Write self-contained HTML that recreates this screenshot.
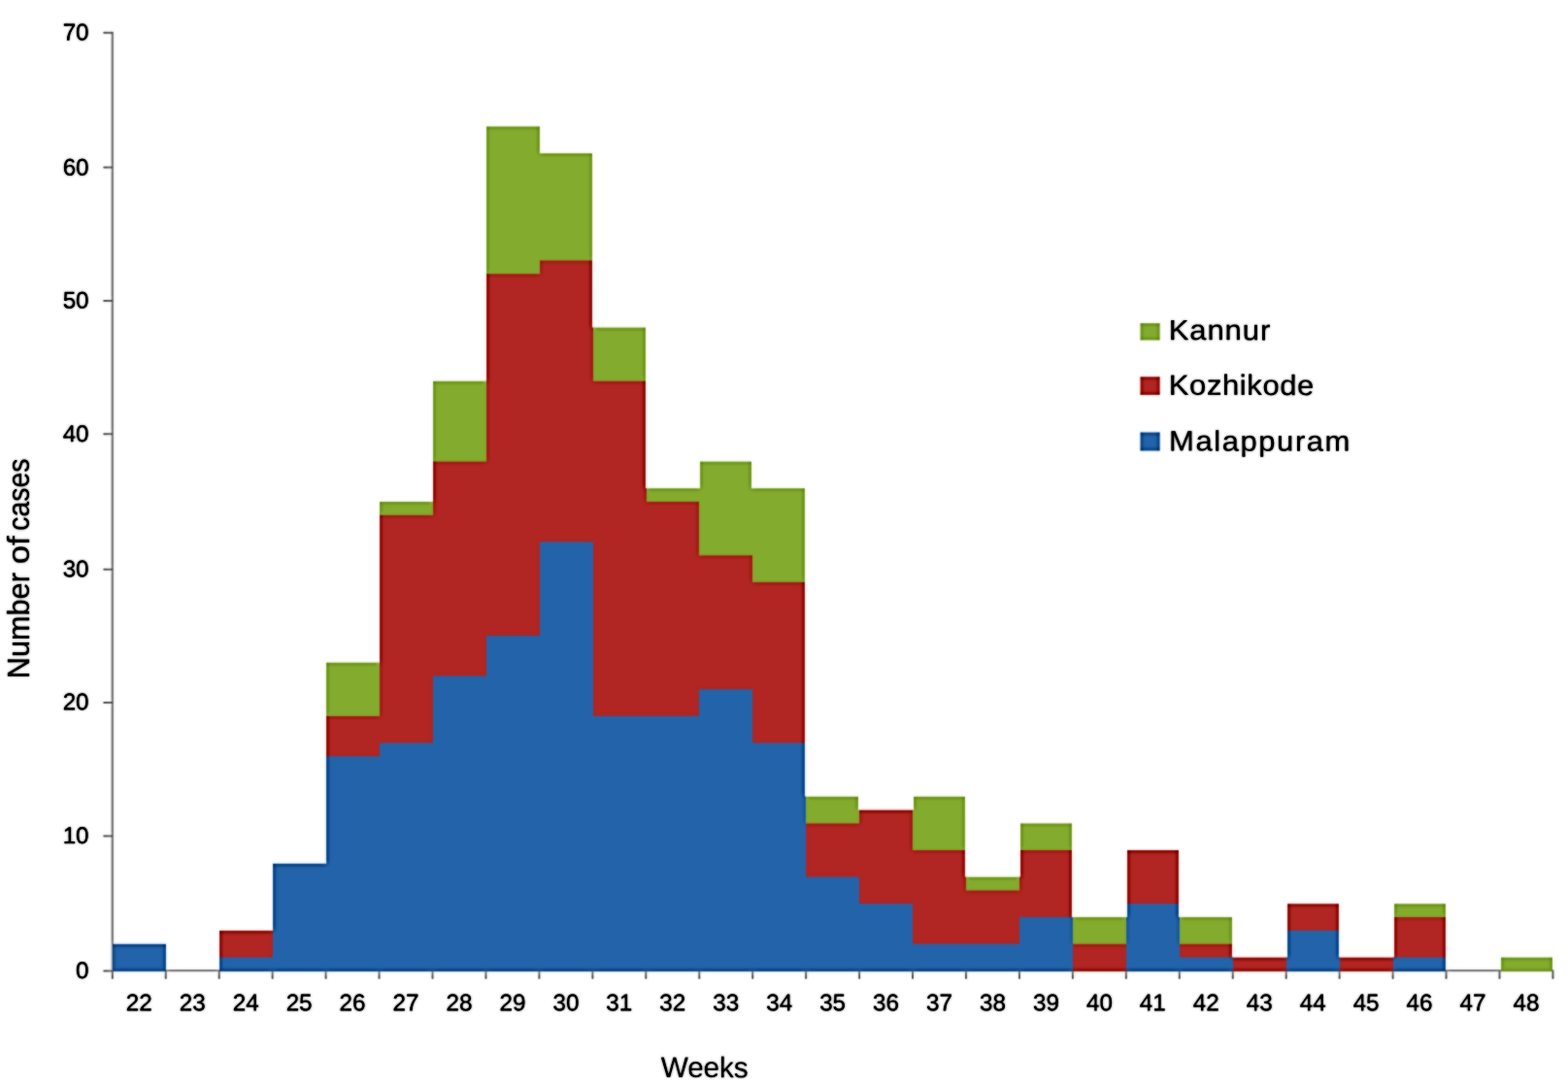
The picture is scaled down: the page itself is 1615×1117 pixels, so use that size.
<!DOCTYPE html>
<html lang="en"><head><meta charset="utf-8">
<title>Number of cases by week</title>
<style>
html,body{margin:0;padding:0;background:#fff;}
body{width:1615px;height:1117px;overflow:hidden;}
svg{display:block;}
text{font-family:"Liberation Sans",sans-serif;fill:#000;stroke:#000;stroke-linejoin:round;}
</style></head><body>
<svg width="1615" height="1117" viewBox="0 0 1615 1117">
<defs><filter id="soft" filterUnits="userSpaceOnUse" x="-30" y="-30" width="1675" height="1177" color-interpolation-filters="sRGB">
<feGaussianBlur in="SourceGraphic" stdDeviation="1" result="b0"/>
<feComposite in="b0" in2="SourceGraphic" operator="arithmetic" k1="0" k2="0.7" k3="0.3" k4="0" result="b1"/>
<feColorMatrix in="b1" type="matrix" values="0.299 0.587 0.114 0 0  0.299 0.587 0.114 0 0  0.299 0.587 0.114 0 0  0 0 0 1 0" result="l1"/>
<feGaussianBlur in="l1" stdDeviation="2" result="l2"/>
<feComposite in="l1" in2="l2" operator="arithmetic" k1="0" k2="1" k3="-1" k4="1" result="e"/>
<feComposite in="b1" in2="e" operator="arithmetic" k1="0" k2="1" k3="1" k4="-1"/>
</filter></defs>
<g filter="url(#soft)">
<rect x="-30" y="-30" width="1675" height="1177" fill="#ffffff"/>
<g id="axes" stroke="#9b9b9b" stroke-width="2.5" fill="none">
<line x1="115.8" y1="32.7" x2="115.8" y2="1001.3"/>
<line x1="114.8" y1="1000.05" x2="1600.45" y2="1000.05" stroke-width="2.3"/>
</g>
<g id="yticks" stroke="#7c7c7c" stroke-width="2" stroke-linecap="round" fill="none">
<line x1="107.2" y1="1000.4" x2="115.3" y2="1000.4"/>
<line x1="107.2" y1="861.4" x2="115.3" y2="861.4"/>
<line x1="107.2" y1="723.9" x2="115.3" y2="723.9"/>
<line x1="107.2" y1="586.7" x2="115.3" y2="586.7"/>
<line x1="107.2" y1="447.3" x2="115.3" y2="447.3"/>
<line x1="107.2" y1="309.9" x2="115.3" y2="309.9"/>
<line x1="107.2" y1="172.6" x2="115.3" y2="172.6"/>
<line x1="107.2" y1="33.7" x2="115.3" y2="33.7"/>
</g>
<g id="bars">
<g fill="#83ab2d">
<rect x="336" y="682.67" width="55" height="318.23"/>
<rect x="336" y="889.82" width="55" height="111.08"/>
<rect x="391" y="516.95" width="55" height="483.95"/>
<rect x="391" y="682.67" width="55" height="318.23"/>
<rect x="446" y="392.66" width="55" height="608.24"/>
<rect x="446" y="516.95" width="55" height="483.95"/>
<rect x="501" y="130.27" width="55" height="870.63"/>
<rect x="501" y="157.89" width="55" height="843.01"/>
<rect x="501" y="392.66" width="55" height="608.24"/>
<rect x="556" y="157.89" width="54" height="843.01"/>
<rect x="556" y="337.42" width="55" height="663.48"/>
<rect x="611" y="337.42" width="54" height="663.48"/>
<rect x="611" y="503.14" width="55" height="497.76"/>
<rect x="666" y="503.14" width="54" height="497.76"/>
<rect x="721" y="475.52" width="53" height="525.38"/>
<rect x="720" y="503.14" width="55" height="497.76"/>
<rect x="775" y="503.14" width="54" height="497.76"/>
<rect x="775" y="820.77" width="55" height="180.13"/>
<rect x="830" y="820.77" width="54" height="180.13"/>
<rect x="830" y="834.58" width="55" height="166.32"/>
<rect x="941" y="820.77" width="53" height="180.13"/>
<rect x="940" y="834.58" width="54" height="166.32"/>
<rect x="940" y="903.63" width="55" height="97.27"/>
<rect x="995" y="903.63" width="55" height="97.27"/>
<rect x="1051" y="848.39" width="53" height="152.51"/>
<rect x="1050" y="903.63" width="54" height="97.27"/>
<rect x="1050" y="945.06" width="55" height="55.84"/>
<rect x="1105" y="945.06" width="55" height="55.84"/>
<rect x="1215" y="945.06" width="54" height="55.84"/>
<rect x="1215" y="986.49" width="55" height="14.41"/>
<rect x="1436" y="931.25" width="53" height="69.65"/>
<rect x="1435" y="986.49" width="54" height="14.41"/>
<rect x="1546" y="986.49" width="53" height="14.41"/>
</g>
<g fill="#b12622">
<rect x="226" y="958.87" width="55" height="42.03"/>
<rect x="336" y="737.91" width="55" height="262.99"/>
<rect x="336" y="889.82" width="55" height="111.08"/>
<rect x="391" y="530.76" width="55" height="470.14"/>
<rect x="391" y="682.67" width="55" height="318.23"/>
<rect x="446" y="475.52" width="55" height="525.38"/>
<rect x="446" y="516.95" width="55" height="483.95"/>
<rect x="501" y="282.18" width="55" height="718.72"/>
<rect x="501" y="392.66" width="55" height="608.24"/>
<rect x="556" y="268.37" width="54" height="732.53"/>
<rect x="556" y="337.42" width="55" height="663.48"/>
<rect x="611" y="392.66" width="54" height="608.24"/>
<rect x="611" y="503.14" width="55" height="497.76"/>
<rect x="666" y="516.95" width="54" height="483.95"/>
<rect x="720" y="572.19" width="55" height="428.71"/>
<rect x="775" y="599.81" width="54" height="401.09"/>
<rect x="775" y="820.77" width="55" height="180.13"/>
<rect x="830" y="848.39" width="55" height="152.51"/>
<rect x="885" y="834.58" width="55" height="166.32"/>
<rect x="940" y="876.01" width="54" height="124.89"/>
<rect x="940" y="903.63" width="55" height="97.27"/>
<rect x="995" y="917.44" width="55" height="83.46"/>
<rect x="1051" y="876.01" width="53" height="124.89"/>
<rect x="1050" y="903.63" width="54" height="97.27"/>
<rect x="1050" y="945.06" width="55" height="55.84"/>
<rect x="1105" y="972.68" width="55" height="28.22"/>
<rect x="1161" y="876.01" width="53" height="124.89"/>
<rect x="1160" y="945.06" width="55" height="55.84"/>
<rect x="1215" y="972.68" width="54" height="28.22"/>
<rect x="1215" y="986.49" width="55" height="14.41"/>
<rect x="1270" y="986.49" width="55" height="14.41"/>
<rect x="1326" y="931.25" width="53" height="69.65"/>
<rect x="1325" y="986.49" width="55" height="14.41"/>
<rect x="1380" y="986.49" width="55" height="14.41"/>
<rect x="1436" y="945.06" width="53" height="55.84"/>
<rect x="1435" y="986.49" width="54" height="14.41"/>
</g>
<g fill="#2363aa">
<rect x="116" y="972.68" width="55" height="28.22"/>
<rect x="226" y="986.49" width="55" height="14.41"/>
<rect x="281" y="889.82" width="55" height="111.08"/>
<rect x="281" y="958.87" width="55" height="42.03"/>
<rect x="336" y="779.34" width="55" height="221.56"/>
<rect x="336" y="889.82" width="55" height="111.08"/>
<rect x="391" y="765.53" width="55" height="235.37"/>
<rect x="446" y="696.48" width="55" height="304.42"/>
<rect x="501" y="655.05" width="55" height="345.85"/>
<rect x="556" y="558.38" width="55" height="442.52"/>
<rect x="611" y="737.91" width="55" height="262.99"/>
<rect x="666" y="737.91" width="54" height="262.99"/>
<rect x="720" y="710.29" width="55" height="290.61"/>
<rect x="775" y="765.53" width="54" height="235.37"/>
<rect x="775" y="820.77" width="55" height="180.13"/>
<rect x="830" y="903.63" width="55" height="97.27"/>
<rect x="885" y="931.25" width="55" height="69.65"/>
<rect x="940" y="972.68" width="55" height="28.22"/>
<rect x="995" y="972.68" width="55" height="28.22"/>
<rect x="1050" y="945.06" width="55" height="55.84"/>
<rect x="1161" y="931.25" width="53" height="69.65"/>
<rect x="1160" y="945.06" width="55" height="55.84"/>
<rect x="1215" y="986.49" width="55" height="14.41"/>
<rect x="1326" y="958.87" width="53" height="42.03"/>
<rect x="1325" y="986.49" width="55" height="14.41"/>
<rect x="1435" y="986.49" width="54" height="14.41"/>
</g>
</g>
<g id="xticks" stroke="#7c7c7c" stroke-width="2" stroke-linecap="round">
<line x1="115.8" y1="1001.5" x2="115.8" y2="1008"/>
<line x1="170.75" y1="1001.5" x2="170.75" y2="1008"/>
<line x1="225.7" y1="1001.5" x2="225.7" y2="1008"/>
<line x1="280.65" y1="1001.5" x2="280.65" y2="1008"/>
<line x1="335.6" y1="1001.5" x2="335.6" y2="1008"/>
<line x1="390.55" y1="1001.5" x2="390.55" y2="1008"/>
<line x1="445.5" y1="1001.5" x2="445.5" y2="1008"/>
<line x1="500.45" y1="1001.5" x2="500.45" y2="1008"/>
<line x1="555.4" y1="1001.5" x2="555.4" y2="1008"/>
<line x1="610.35" y1="1001.5" x2="610.35" y2="1008"/>
<line x1="665.3" y1="1001.5" x2="665.3" y2="1008"/>
<line x1="720.25" y1="1001.5" x2="720.25" y2="1008"/>
<line x1="775.2" y1="1001.5" x2="775.2" y2="1008"/>
<line x1="830.15" y1="1001.5" x2="830.15" y2="1008"/>
<line x1="885.1" y1="1001.5" x2="885.1" y2="1008"/>
<line x1="940.05" y1="1001.5" x2="940.05" y2="1008"/>
<line x1="995" y1="1001.5" x2="995" y2="1008"/>
<line x1="1049.95" y1="1001.5" x2="1049.95" y2="1008"/>
<line x1="1104.9" y1="1001.5" x2="1104.9" y2="1008"/>
<line x1="1159.85" y1="1001.5" x2="1159.85" y2="1008"/>
<line x1="1214.8" y1="1001.5" x2="1214.8" y2="1008"/>
<line x1="1269.75" y1="1001.5" x2="1269.75" y2="1008"/>
<line x1="1324.7" y1="1001.5" x2="1324.7" y2="1008"/>
<line x1="1379.65" y1="1001.5" x2="1379.65" y2="1008"/>
<line x1="1434.6" y1="1001.5" x2="1434.6" y2="1008"/>
<line x1="1489.55" y1="1001.5" x2="1489.55" y2="1008"/>
<line x1="1544.5" y1="1001.5" x2="1544.5" y2="1008"/>
<line x1="1599.45" y1="1001.5" x2="1599.45" y2="1008"/>
</g>
<g id="ylabels">
<text font-size="24" stroke-width="0.42" text-anchor="end" transform="translate(91.6 1008) matrix(1.01 0.002 0 1 0 0)">0</text>
<text font-size="24" stroke-width="0.42" text-anchor="end" transform="translate(91.6 869) matrix(1.01 0.002 0 1 0 0)">10</text>
<text font-size="24" stroke-width="0.42" text-anchor="end" transform="translate(91.6 731.4) matrix(1.01 0.002 0 1 0 0)">20</text>
<text font-size="24" stroke-width="0.42" text-anchor="end" transform="translate(91.6 594.2) matrix(1.01 0.002 0 1 0 0)">30</text>
<text font-size="24" stroke-width="0.42" text-anchor="end" transform="translate(91.6 455) matrix(1.01 0.002 0 1 0 0)">40</text>
<text font-size="24" stroke-width="0.42" text-anchor="end" transform="translate(91.6 317.45) matrix(1.01 0.002 0 1 0 0)">50</text>
<text font-size="24" stroke-width="0.42" text-anchor="end" transform="translate(91.6 180.65) matrix(1.01 0.002 0 1 0 0)">60</text>
<text font-size="24" stroke-width="0.42" text-anchor="end" transform="translate(91.6 41.2) matrix(1.01 0.002 0 1 0 0)">70</text>
</g>
<g id="xlabels">
<text font-size="24" stroke-width="0.42" text-anchor="middle" transform="translate(143.28 1041.35) matrix(1.01 0.002 0 1 0 0)">22</text>
<text font-size="24" stroke-width="0.42" text-anchor="middle" transform="translate(198.23 1041.35) matrix(1.01 0.002 0 1 0 0)">23</text>
<text font-size="24" stroke-width="0.42" text-anchor="middle" transform="translate(253.18 1041.35) matrix(1.01 0.002 0 1 0 0)">24</text>
<text font-size="24" stroke-width="0.42" text-anchor="middle" transform="translate(308.12 1041.35) matrix(1.01 0.002 0 1 0 0)">25</text>
<text font-size="24" stroke-width="0.42" text-anchor="middle" transform="translate(363.07 1041.35) matrix(1.01 0.002 0 1 0 0)">26</text>
<text font-size="24" stroke-width="0.42" text-anchor="middle" transform="translate(418.03 1041.35) matrix(1.01 0.002 0 1 0 0)">27</text>
<text font-size="24" stroke-width="0.42" text-anchor="middle" transform="translate(472.98 1041.35) matrix(1.01 0.002 0 1 0 0)">28</text>
<text font-size="24" stroke-width="0.42" text-anchor="middle" transform="translate(527.92 1041.35) matrix(1.01 0.002 0 1 0 0)">29</text>
<text font-size="24" stroke-width="0.42" text-anchor="middle" transform="translate(582.88 1041.35) matrix(1.01 0.002 0 1 0 0)">30</text>
<text font-size="24" stroke-width="0.42" text-anchor="middle" transform="translate(637.82 1041.35) matrix(1.01 0.002 0 1 0 0)">31</text>
<text font-size="24" stroke-width="0.42" text-anchor="middle" transform="translate(692.77 1041.35) matrix(1.01 0.002 0 1 0 0)">32</text>
<text font-size="24" stroke-width="0.42" text-anchor="middle" transform="translate(747.73 1041.35) matrix(1.01 0.002 0 1 0 0)">33</text>
<text font-size="24" stroke-width="0.42" text-anchor="middle" transform="translate(802.67 1041.35) matrix(1.01 0.002 0 1 0 0)">34</text>
<text font-size="24" stroke-width="0.42" text-anchor="middle" transform="translate(857.62 1041.35) matrix(1.01 0.002 0 1 0 0)">35</text>
<text font-size="24" stroke-width="0.42" text-anchor="middle" transform="translate(912.58 1041.35) matrix(1.01 0.002 0 1 0 0)">36</text>
<text font-size="24" stroke-width="0.42" text-anchor="middle" transform="translate(967.52 1041.35) matrix(1.01 0.002 0 1 0 0)">37</text>
<text font-size="24" stroke-width="0.42" text-anchor="middle" transform="translate(1022.48 1041.35) matrix(1.01 0.002 0 1 0 0)">38</text>
<text font-size="24" stroke-width="0.42" text-anchor="middle" transform="translate(1077.42 1041.35) matrix(1.01 0.002 0 1 0 0)">39</text>
<text font-size="24" stroke-width="0.42" text-anchor="middle" transform="translate(1132.38 1041.35) matrix(1.01 0.002 0 1 0 0)">40</text>
<text font-size="24" stroke-width="0.42" text-anchor="middle" transform="translate(1187.33 1041.35) matrix(1.01 0.002 0 1 0 0)">41</text>
<text font-size="24" stroke-width="0.42" text-anchor="middle" transform="translate(1242.28 1041.35) matrix(1.01 0.002 0 1 0 0)">42</text>
<text font-size="24" stroke-width="0.42" text-anchor="middle" transform="translate(1297.22 1041.35) matrix(1.01 0.002 0 1 0 0)">43</text>
<text font-size="24" stroke-width="0.42" text-anchor="middle" transform="translate(1352.17 1041.35) matrix(1.01 0.002 0 1 0 0)">44</text>
<text font-size="24" stroke-width="0.42" text-anchor="middle" transform="translate(1407.12 1041.35) matrix(1.01 0.002 0 1 0 0)">45</text>
<text font-size="24" stroke-width="0.42" text-anchor="middle" transform="translate(1462.08 1041.35) matrix(1.01 0.002 0 1 0 0)">46</text>
<text font-size="24" stroke-width="0.42" text-anchor="middle" transform="translate(1517.03 1041.35) matrix(1.01 0.002 0 1 0 0)">47</text>
<text font-size="24" stroke-width="0.42" text-anchor="middle" transform="translate(1571.98 1041.35) matrix(1.01 0.002 0 1 0 0)">48</text>
</g>
<g id="legend">
<rect x="1174.4" y="333" width="20.3" height="17.6" fill="#83ab2d"/>
<text font-size="29" stroke-width="0.3" letter-spacing="0.85" text-anchor="start" transform="translate(1203.7 350) matrix(1.07 0.002 0 1 0 0)">Kannur</text>
<rect x="1174.4" y="388.2" width="20.3" height="18.8" fill="#b12622"/>
<text font-size="29" stroke-width="0.3" letter-spacing="0.55" text-anchor="start" transform="translate(1203.8 406.7) matrix(1.07 0.002 0 1 0 0)">Kozhikode</text>
<rect x="1174.4" y="445.4" width="20.3" height="19.2" fill="#2363aa"/>
<text font-size="29" stroke-width="0.3" letter-spacing="1.45" text-anchor="start" transform="translate(1204.1 464.3) matrix(1.07 0.002 0 1 0 0)">Malappuram</text>
</g>
<g id="titles">
<text font-size="31" stroke-width="0.3" text-anchor="start" transform="translate(29.9 697.4) rotate(-90)"><tspan x="-1.9" textLength="109.2" lengthAdjust="spacingAndGlyphs">Number</tspan> <tspan x="116.2" textLength="28.8" lengthAdjust="spacingAndGlyphs">of</tspan> <tspan x="150.6" textLength="74.2" lengthAdjust="spacingAndGlyphs">cases</tspan></text>
<text font-size="29.8" stroke-width="0.1" letter-spacing="-0.2" text-anchor="middle" transform="translate(725.6 1110.1) matrix(1 0.002 0 1 0 0)">Weeks</text>
</g>
</g>
</svg>
</body></html>
